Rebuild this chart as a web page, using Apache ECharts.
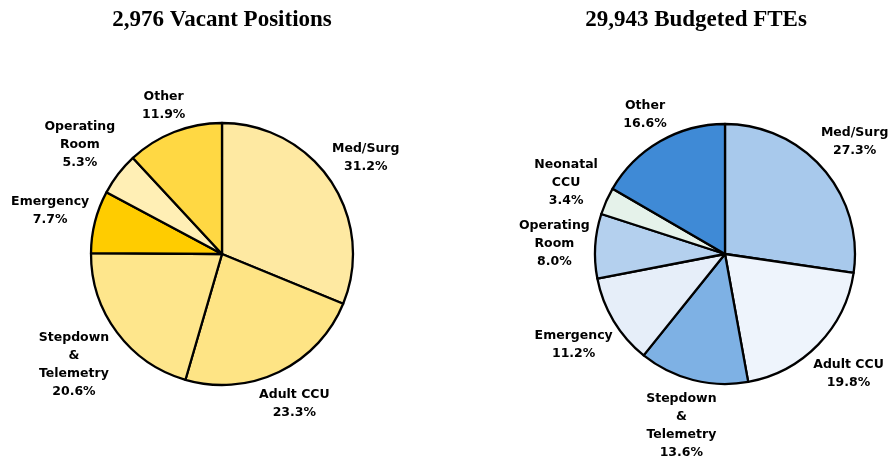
<!DOCTYPE html>
<html lang="en">
<head>
    <meta charset="UTF-8">
    <script src="https://cdn.jsdelivr.net/npm/echarts@6/dist/echarts.min.js"></script>
    <title>Vacant Positions vs Budgeted FTEs</title>
    <style>
        html, body { margin: 0; padding: 0; background: #fff; }
        #chart { width: 896px; height: 457px; }
    </style>
</head>
<body>

<div id="chart"></div>

<script>
    // 空缺職位
    let vacant_title = '2,976 Vacant Positions';
    let vacant_names = ['Med/Surg', 'Adult CCU', 'Stepdown\n&\nTelemetry', 'Emergency', 'Operating\nRoom', 'Other'];
    let vacant_values = [31.2, 23.3, 20.6, 7.7, 5.3, 11.9];
    let vacant_colors = ['#fee9a2', '#fee485', '#fee68c', '#ffcc00', '#ffefb5', '#ffd843'];

    // 預算 FTE
    let budget_title = '29,943 Budgeted FTEs';
    let budget_names = ['Med/Surg', 'Adult CCU', 'Stepdown\n&\nTelemetry', 'Emergency', 'Operating\nRoom', 'Neonatal\nCCU', 'Other'];
    let budget_values = [27.3, 19.8, 13.6, 11.2, 8.0, 3.4, 16.6];
    let budget_colors = ['#a8c9ec', '#eef4fc', '#7eb1e4', '#e6eef9', '#b4d0ee', '#e5f2ea', '#3f8ad6'];

    function build_data(names, values, colors){
        let out = [];
        for ( let i = 0; i < names.length; i++ ){
            out.push({ name: names[i], value: values[i], itemStyle: { color: colors[i] } });
        }
        return out;
    }

    // 把標籤沿著扇形中線往外推，讓文字框貼著圓邊
    function place_label(p){
        let pts = p.labelLinePoints;
        if ( !pts ) return {};
        let dx = pts[1][0] - pts[0][0];
        let dy = pts[1][1] - pts[0][1];
        let len = Math.sqrt(dx * dx + dy * dy) || 1;
        dx /= len;
        dy /= len;
        let w = p.labelRect.width, h = p.labelRect.height;
        let d = 4 + Math.abs(dx) * w / 2 + Math.abs(dy) * h / 2;
        return {
            x: pts[0][0] + dx * d,
            y: pts[0][1] + dy * d,
            align: 'center',
            verticalAlign: 'middle'
        };
    }

    function pie_series(data, center, radius){
        return {
            type: 'pie',
            center: center,
            radius: radius,
            startAngle: 90,
            clockwise: true,
            avoidLabelOverlap: false,
            animation: false,
            silent: true,
            data: data,
            itemStyle: {
                borderColor: '#000',
                borderWidth: 2.3
            },
            label: {
                show: true,
                position: 'outside',
                formatter: function(p){ return p.name + '\n' + p.value.toFixed(1) + '%'; },
                fontFamily: '"DejaVu Sans", Verdana, sans-serif',
                fontWeight: 'bold',
                fontSize: 12.5,
                lineHeight: 18,
                color: '#000'
            },
            labelLine: {
                show: true,
                length: 10,
                length2: 0,
                lineStyle: { opacity: 0 }
            },
            labelLayout: place_label
        };
    }

    let myChart = echarts.init(document.getElementById('chart'), null, { renderer: 'canvas' });
    let title_style = {
        fontFamily: '"Liberation Serif", "Times New Roman", serif',
        fontWeight: 'bold',
        fontSize: 23,
        color: '#000'
    };
    let option = {
        backgroundColor: '#fff',
        animation: false,
        title: [
            { text: vacant_title, left: 217, top: 4, textAlign: 'center', textStyle: title_style },
            { text: budget_title, left: 691, top: 4, textAlign: 'center', textStyle: title_style }
        ],
        series: [
            pie_series(build_data(vacant_names, vacant_values, vacant_colors), [222, 254], 131),
            pie_series(build_data(budget_names, budget_values, budget_colors), [725, 254], 130)
        ]
    };
    myChart.setOption(option);
</script>

</body>
</html>
